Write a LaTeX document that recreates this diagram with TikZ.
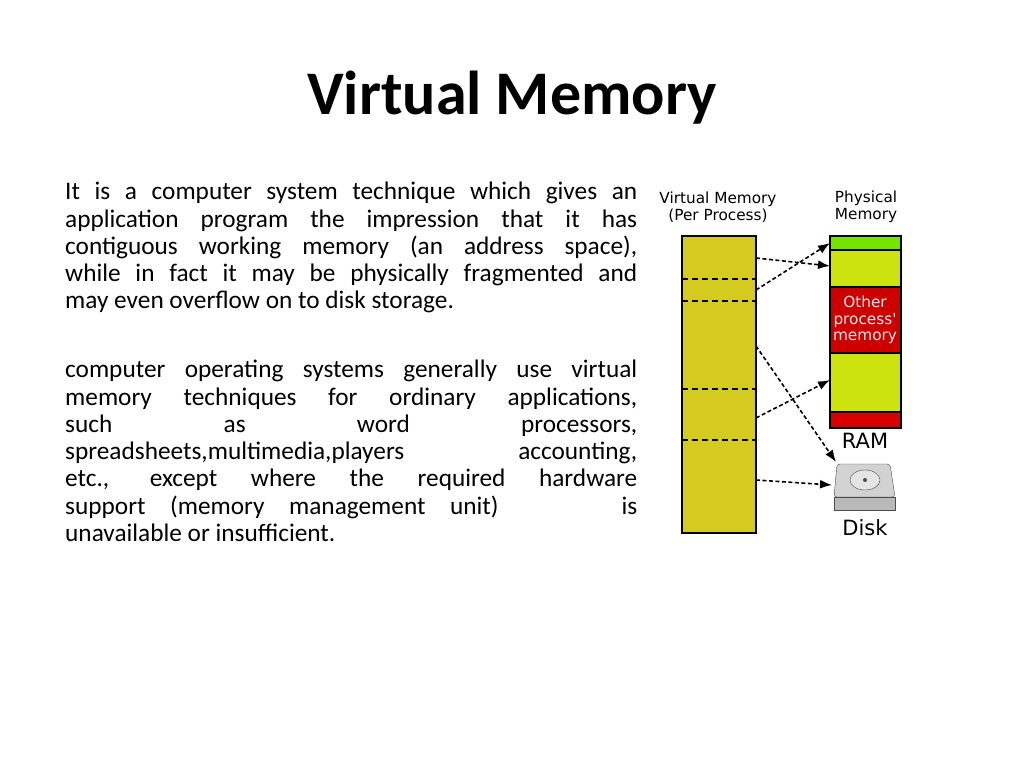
\documentclass[tikz,border=0pt]{standalone}
\usepackage{fontspec}
\setmainfont{Carlito}
\newfontfamily\diagfont{DejaVu Sans}
\usetikzlibrary{calc,arrows.meta}
\tikzset{
  mapline/.style={dash pattern=on 4pt off 2.5pt,line width=1.6pt,-{Latex[length=12pt,width=9pt]}},
  seg/.style={draw,line width=1.5pt},
  colcaption/.style={font=\diagfont\fontsize{15.3}{16.5}\selectfont,align=center}
}
\begin{document}
\begin{tikzpicture}[x=1pt,y=-1pt]
  \useasboundingbox[fill=white] (0,0) rectangle (1024,768);
  %% Title and text
  \node[font=\bfseries\fontsize{62}{70}\selectfont] (title) at (512,98) {Virtual Memory};
  \node[anchor=north west,inner sep=0pt,text width=572pt,align=justify,
        font=\fontsize{25.3}{27.3}\selectfont] (para1) at (65,182)
  {It is a computer system technique which gives an\linebreak
   application program the impression that it has\linebreak
   contiguous working memory (an address space),\linebreak
   while in fact it may be physically fragmented and\linebreak
   may even overflow on to disk storage.};
  \node[anchor=north west,inner sep=0pt,text width=572pt,align=justify,
        font=\fontsize{25.3}{27.3}\selectfont] (para2) at (65,360)
  {computer operating systems generally use virtual\linebreak
   memory techniques for ordinary applications,\linebreak
   such as word processors,\linebreak
   spreadsheets,multimedia,players\ \ \ \ \ accounting,\linebreak
   etc., except where the required hardware\linebreak
   support (memory management unit)\ \ \ \ \ is\linebreak
   unavailable or insufficient.};

  %% Virtual memory column
  \node[colcaption] (vlabel) at (718,207) {Virtual Memory\\(Per Process)};
  \draw[fill=yellow!55!olive!85!white,line width=1.5pt] (682,236) rectangle (756,533);
  \foreach \y in {279,301,389,440}
    \draw[dash pattern=on 6pt off 4pt,line width=1.3pt] (682,\y) -- (756,\y);
  \foreach \n/\y in {v1/258,v2/290,v3/346,v4/418,v5/480}
    \coordinate (\n) at (756,\y);

  %% Physical memory column
  \node[colcaption] (plabel) at (866,207) {Physical\\Memory};
  \draw[seg,fill=green!50!yellow!90!black] (830,236) rectangle (901,250);
  \draw[seg,fill=yellow!80!green] (830,250) rectangle (901,287);
  \draw[seg,fill=red!80!black] (830,287) rectangle (901,353);
  \node[colcaption,text=white!90!red] (other) at (865,320) {Other\\process'\\memory};
  \draw[seg,fill=yellow!80!green] (830,353) rectangle (901,412);
  \draw[seg,fill=red!85!black] (830,412) rectangle (901,428);
  \node[font=\diagfont\fontsize{21}{24}\selectfont] (ram) at (865,441) {RAM};
  \foreach \n/\y in {p1/243,p2/266,p3/380}
    \coordinate (\n) at (830,\y);

  %% Disk
  \draw[fill=gray!35,draw=gray!60!black,rounded corners=3pt] (837,464) -- (890,464) -- (895,497) -- (834,497) -- cycle;
  \draw[fill=gray!55,draw=gray!60!black] (834,497) rectangle (895,510);
  \draw[gray!60!black,fill=gray!20] (865,480) ellipse (15pt and 10pt);
  \fill[gray!60!black] (865,480) circle (2pt);
  \coordinate (d1) at (836,462);
  \coordinate (d2) at (832,485);
  \node[font=\diagfont\fontsize{21}{24}\selectfont] (disk) at (865,528) {Disk};

  %% Mapping arrows
  \draw[mapline] (v1) -- (p2);
  \draw[mapline] (v2) -- (p1);
  \draw[mapline] (v3) -- (d1);
  \draw[mapline] (v4) -- (p3);
  \draw[mapline] (v5) -- (d2);
\end{tikzpicture}
\end{document}
